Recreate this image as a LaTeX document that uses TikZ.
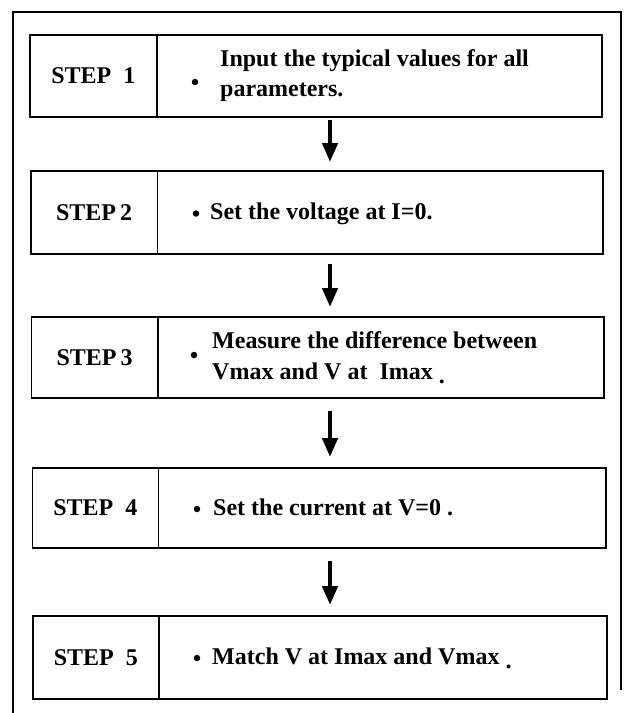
\documentclass[tikz,border=0pt]{standalone}
\usepackage{fontspec}
\setmainfont{Liberation Serif}
\usetikzlibrary{arrows.meta}
\tikzset{
  cellbox/.style={draw=black, line width=1.6pt, rectangle, inner sep=0pt, anchor=north west,
    font=\fontsize{24}{30}\selectfont\bfseries},
  txt/.style={inner sep=0pt, anchor=base west, font=\fontsize{24}{30}\selectfont\bfseries},
  dot/.style={circle, fill=black, inner sep=0pt, minimum size=6.5pt},
  flow/.style={line width=4.5pt, -{Triangle[width=15pt,length=19pt]}},
  frame/.style={line width=1.3pt}
}
\begin{document}
\begin{tikzpicture}[x=1pt,y=-1pt]
\useasboundingbox (0,0) rectangle (624,713);
% outer frame (open at the bottom)
\coordinate (f1) at (13,713);
\coordinate (f2) at (13,12);
\coordinate (f3) at (621,12);
\coordinate (f4) at (621,690);
\draw[frame] (f1) -- (f2) -- (f3) -- (f4);

% step 1
\node[cellbox, minimum width=127pt, minimum height=82pt] (s1) at (29,34) {STEP\ \ 1};
\node[cellbox, minimum width=445pt, minimum height=82pt] (t1) at (156,34) {};
\node[dot] (d1) at (195,82) {};
\node[txt] (a1) at (220,66) {Input the typical values for all};
\node[txt] (a1b) at (220,96) {parameters.};

% step 2
\node[cellbox, minimum width=126.5pt, minimum height=83pt] (s2) at (30,170) {STEP\,2};
\node[cellbox, minimum width=445.5pt, minimum height=83pt] (t2) at (156.5,170) {};
\node[dot] (d2) at (196,213.5) {};
\node[txt] (a2) at (210,219.5) {Set the voltage at I=0.};

% step 3
\node[cellbox, minimum width=126.5pt, minimum height=81pt] (s3) at (30.5,316) {STEP\,3};
\node[cellbox, minimum width=446pt, minimum height=81pt] (t3) at (157,316) {};
\node[dot] (d3) at (194,355) {};
\node[txt] (a3) at (212,348) {Measure the difference between};
\node[txt] (a3b) at (212,379) {Vmax and V at \ Imax \raisebox{-4pt}{.}};

% step 4
\node[cellbox, minimum width=126pt, minimum height=80pt] (s4) at (31.5,467) {STEP\ \ 4};
\node[cellbox, minimum width=447.5pt, minimum height=80pt] (t4) at (157.5,467) {};
\node[dot] (d4) at (197,509) {};
\node[txt] (a4) at (213,515) {Set the current at V=0 .};

% step 5
\node[cellbox, minimum width=126pt, minimum height=83pt] (s5) at (32,615) {STEP\ \ 5};
\node[cellbox, minimum width=448pt, minimum height=83pt] (t5) at (158,615) {};
\node[dot] (d5) at (197,658) {};
\node[txt] (a5) at (212,664) {Match V at Imax and Vmax \raisebox{-4pt}{.}};

% connectors
\coordinate (ax) at (330,0);
\draw[flow, shorten <=2pt, shorten >=8pt] (t1.south -| ax) -- (t2.north -| ax);
\draw[flow, shorten <=9pt, shorten >=9pt] (t2.south -| ax) -- (t3.north -| ax);
\draw[flow, shorten <=12pt, shorten >=10pt] (t3.south -| ax) -- (t4.north -| ax);
\draw[flow, shorten <=12pt, shorten >=10pt] (t4.south -| ax) -- (t5.north -| ax);
\end{tikzpicture}
\end{document}
